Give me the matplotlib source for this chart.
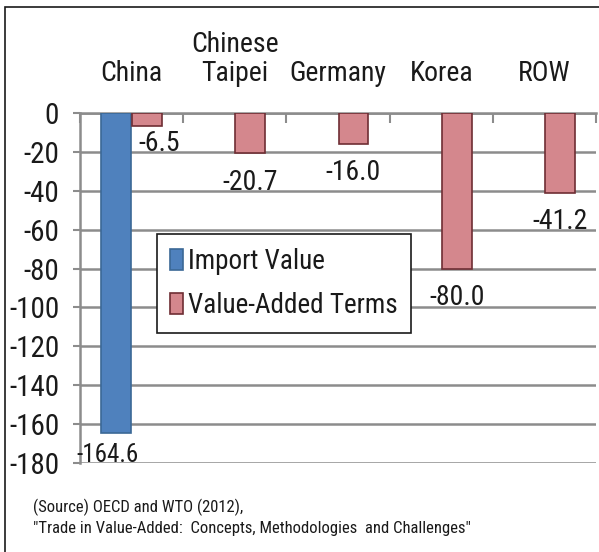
import numpy as np
import matplotlib
matplotlib.use('Agg')
import matplotlib.pyplot as plt
from matplotlib import font_manager
from matplotlib.patches import Rectangle

# narrow sans face, first one that is installed
installed = {f.name for f in font_manager.fontManager.ttflist}
narrow = [n for n in ['Liberation Sans Narrow', 'Roboto Condensed', 'Archivo Narrow'] if n in installed]
plt.rcParams['font.family'] = narrow[:1] + ['DejaVu Sans']

countries = ['China', 'Chinese\nTaipei', 'Germany', 'Korea', 'ROW']
import_value = [-164.6, np.nan, np.nan, np.nan, np.nan]
value_added = [-6.5, -20.7, -16.0, -80.0, -41.2]
yticks = [0, -20, -40, -60, -80, -100, -120, -140, -160, -180]

blue = '#4F81BD'
pink = '#D4878D'
grid_col = '#8C8C8C'
ink = '#1a1a1a'

fig = plt.figure(figsize=(5.99, 5.52), dpi=100)
ax = fig.add_axes([80 / 599, 1 - 463 / 552, 516 / 599, 350 / 552])

x = np.arange(len(countries))
w = 0.29
ax.bar(x - 0.15, import_value, w, color=blue, edgecolor='#3B6896', linewidth=1.2,
       label='Import Value', zorder=3)
ax.bar(x + 0.15, value_added, w, color=pink, edgecolor='#6E2E34', linewidth=1.2,
       label='Value-Added Terms', zorder=3)

# value labels under the bar ends
for xi, v in zip(x - 0.15, import_value):
    if not np.isnan(v):
        ax.annotate(f'{v:.1f}', (xi, v), xytext=(-6, -7), textcoords='offset points',
                    ha='center', va='top', fontsize=18, color=ink)
for i, (xi, v) in enumerate(zip(x + 0.15, value_added)):
    dx, dy = (9, -3) if i == 0 else (0, -11)
    ax.annotate(f'{v:.1f}', (xi, v), xytext=(dx, dy), textcoords='offset points',
                ha='center', va='top', fontsize=20, color=ink)

ax.set_xlim(-0.5, len(countries) - 0.5)
ax.set_ylim(-180, 0)
ax.set_yticks(yticks)
ax.set_yticklabels([str(t) for t in yticks], fontsize=21, color=ink)
ax.yaxis.grid(True, color=grid_col, linewidth=1.8, zorder=0)
ax.tick_params(axis='y', length=5, width=1.5, color=grid_col, pad=10)

# category names on top, tick marks at the boundaries
ax.xaxis.tick_top()
ax.set_xticks(x)
ax.set_xticklabels(countries, fontsize=20, color=ink, linespacing=1.1)
ax.set_xticks(np.arange(len(countries) + 1) - 0.5, minor=True)
ax.tick_params(axis='x', which='major', length=0, pad=19)
ax.tick_params(axis='x', which='minor', top=True, bottom=False, direction='in',
               length=7, width=1.5, color=grid_col)

for side in ['bottom', 'right']:
    ax.spines[side].set_visible(False)
for side in ['top', 'left']:
    ax.spines[side].set_color(grid_col)
    ax.spines[side].set_linewidth(1.8)

leg = ax.legend(loc='upper left', bbox_to_anchor=(0.149, 0.654), borderaxespad=0,
                fontsize=19.5, handlelength=0.45, handleheight=0.8, handletextpad=0.2,
                labelspacing=0.65, borderpad=0.5, fancybox=False, framealpha=1)
leg.set_zorder(5)
leg.get_frame().set_edgecolor(ink)
leg.get_frame().set_linewidth(1.2)
for t in leg.get_texts():
    t.set_color(ink)

fig.text(33 / 599, 1 - 512 / 552, '(Source) OECD and WTO (2012),', fontsize=12,
         va='baseline', color=ink)
fig.text(33 / 599, 1 - 533 / 552,
         '"Trade in Value-Added:  Concepts, Methodologies  and Challenges"',
         fontsize=12, va='baseline', color=ink)

# outer frame
fig.add_artist(Rectangle((5 / 599, -0.1), 1.0, 1.1 - 7 / 552, transform=fig.transFigure,
                         fill=False, edgecolor=ink, linewidth=1.2))

fig.savefig('out.png', dpi=100)
